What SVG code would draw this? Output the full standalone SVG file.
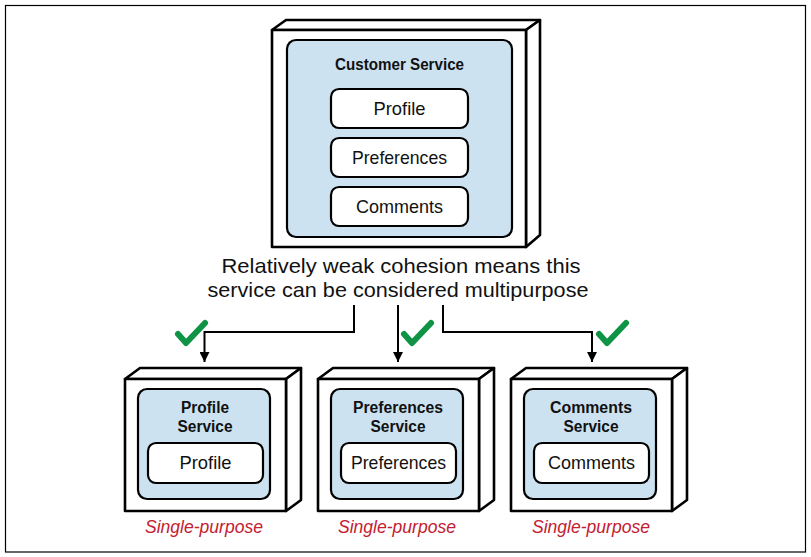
<svg xmlns="http://www.w3.org/2000/svg" width="811" height="557" viewBox="0 0 811 557">
<defs>
<style>
.frame{fill:#fff;stroke:#000;stroke-width:2.6;stroke-linejoin:round}
.svc{fill:#cce2f0;stroke:#000;stroke-width:2.2}
.comp{fill:#fff;stroke:#000;stroke-width:2.2}
.t{font-family:"Liberation Sans",Arial,sans-serif;fill:#111;text-anchor:middle}
.b{font-weight:bold;font-size:16px}
.c{font-size:19px}
.cap{font-size:21px}
.sp{font-size:19px;font-style:italic;fill:#c4202f}
.ln{fill:none;stroke:#000;stroke-width:2}
.chk{fill:none;stroke:#0f9445;stroke-width:6;stroke-linecap:round;stroke-linejoin:round}
</style>
<marker id="ah" viewBox="0 0 10 10" refX="10" refY="5" markerWidth="10" markerHeight="10" markerUnits="userSpaceOnUse" orient="auto">
<path d="M0,0 L10,5 L0,10 Z" fill="#000"/>
</marker>
</defs>
<rect x="5.5" y="5.5" width="800" height="546.5" fill="#fff" stroke="#000" stroke-width="1.2"/>

<g id="customer-service">
<polygon class="frame" points="272,30 286,20 540,20 526,30"/>
<polygon class="frame" points="526,30 540,20 540,235 526,247"/>
<rect class="frame" x="272" y="30" width="254" height="217"/>
<rect class="svc" x="287" y="40" width="225" height="197" rx="9"/>
<text class="t b" x="399.5" y="70" textLength="129" lengthAdjust="spacingAndGlyphs">Customer Service</text>
<rect class="comp" x="331" y="89" width="137" height="39" rx="8"/>
<text class="t c" x="399.5" y="115" textLength="52" lengthAdjust="spacingAndGlyphs">Profile</text>
<rect class="comp" x="331" y="138" width="137" height="39" rx="8"/>
<text class="t c" x="399.5" y="164" textLength="95" lengthAdjust="spacingAndGlyphs">Preferences</text>
<rect class="comp" x="331" y="187" width="137" height="39" rx="8"/>
<text class="t c" x="399.5" y="213" textLength="87" lengthAdjust="spacingAndGlyphs">Comments</text>
</g>

<g id="caption">
<text class="t cap" x="401" y="273" textLength="359" lengthAdjust="spacingAndGlyphs">Relatively weak cohesion means this</text>
<text class="t cap" x="398" y="297" textLength="381" lengthAdjust="spacingAndGlyphs">service can be considered multipurpose</text>
</g>

<g id="connectors">
<path class="ln" d="M354,305 V332 H204.5 V362" marker-end="url(#ah)"/>
<path class="ln" d="M398,305 V362" marker-end="url(#ah)"/>
<path class="ln" d="M443,305 V332 H592 V362" marker-end="url(#ah)"/>
</g>

<g id="checks">
<path class="chk" d="M178,334 L186,343 L205,323"/>
<path class="chk" d="M404,334 L412,343 L431,323"/>
<path class="chk" d="M599,334 L607,343 L626,323"/>
</g>

<g id="profile-service">
<polygon class="frame" points="125,379 140,368 301,368 286,379"/>
<polygon class="frame" points="286,379 301,368 301,500 286,511"/>
<rect class="frame" x="125" y="379" width="161" height="132"/>
<rect class="svc" x="138" y="389" width="132" height="110" rx="9"/>
<text class="t b" x="205" y="413" textLength="48" lengthAdjust="spacingAndGlyphs">Profile</text>
<text class="t b" x="205" y="432" textLength="55" lengthAdjust="spacingAndGlyphs">Service</text>
<rect class="comp" x="148" y="443" width="115" height="40" rx="8"/>
<text class="t c" x="205.5" y="469" textLength="52" lengthAdjust="spacingAndGlyphs">Profile</text>
<text class="t sp" x="204" y="533" textLength="118" lengthAdjust="spacingAndGlyphs">Single-purpose</text>
</g>

<g id="preferences-service">
<polygon class="frame" points="318,379 333,368 494,368 479,379"/>
<polygon class="frame" points="479,379 494,368 494,500 479,511"/>
<rect class="frame" x="318" y="379" width="161" height="132"/>
<rect class="svc" x="331" y="389" width="132" height="110" rx="9"/>
<text class="t b" x="398" y="413" textLength="90" lengthAdjust="spacingAndGlyphs">Preferences</text>
<text class="t b" x="398" y="432" textLength="55" lengthAdjust="spacingAndGlyphs">Service</text>
<rect class="comp" x="341" y="443" width="115" height="40" rx="8"/>
<text class="t c" x="398.5" y="469" textLength="95" lengthAdjust="spacingAndGlyphs">Preferences</text>
<text class="t sp" x="397" y="533" textLength="118" lengthAdjust="spacingAndGlyphs">Single-purpose</text>
</g>

<g id="comments-service">
<polygon class="frame" points="511,379 526,368 687,368 672,379"/>
<polygon class="frame" points="672,379 687,368 687,500 672,511"/>
<rect class="frame" x="511" y="379" width="161" height="132"/>
<rect class="svc" x="524" y="389" width="132" height="110" rx="9"/>
<text class="t b" x="591" y="413" textLength="82" lengthAdjust="spacingAndGlyphs">Comments</text>
<text class="t b" x="591" y="432" textLength="55" lengthAdjust="spacingAndGlyphs">Service</text>
<rect class="comp" x="534" y="443" width="115" height="40" rx="8"/>
<text class="t c" x="591.5" y="469" textLength="87" lengthAdjust="spacingAndGlyphs">Comments</text>
<text class="t sp" x="591" y="533" textLength="118" lengthAdjust="spacingAndGlyphs">Single-purpose</text>
</g>
</svg>
